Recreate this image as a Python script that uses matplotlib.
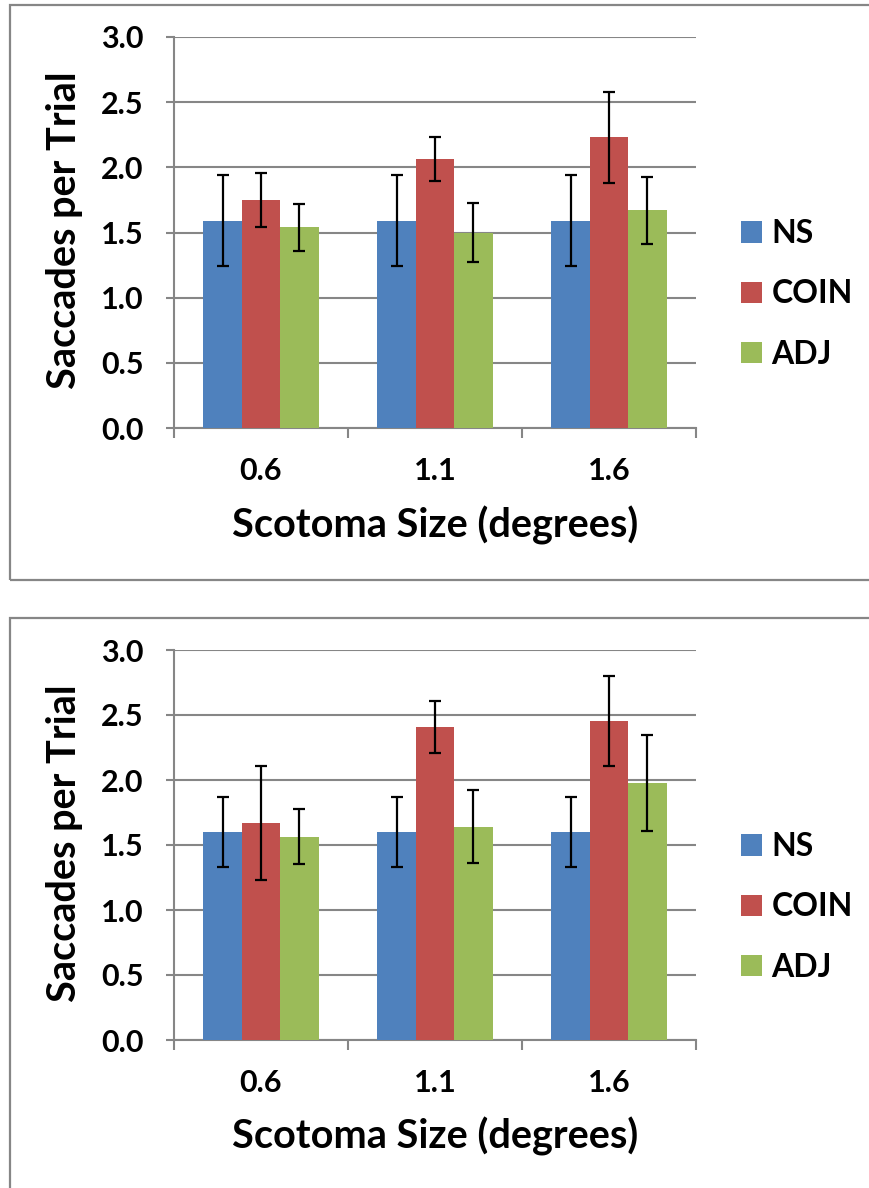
import matplotlib
matplotlib.use("Agg")
import matplotlib.pyplot as plt
from matplotlib.patches import Rectangle, Patch
import numpy as np

# ---- data ----
sizes = ["0.6", "1.1", "1.6"]
series = ["NS", "COIN", "ADJ"]
colors = ["#4F81BD", "#C0504D", "#9BBB59"]

# top panel
top_ns = [1.59, 1.59, 1.59]
top_ns_err = [0.35, 0.35, 0.35]
top_coin = [1.75, 2.065, 2.23]
top_coin_err = [0.205, 0.17, 0.35]
top_adj = [1.54, 1.50, 1.67]
top_adj_err = [0.18, 0.23, 0.257]

# bottom panel
bot_ns = [1.60, 1.60, 1.60]
bot_ns_err = [0.267, 0.267, 0.267]
bot_coin = [1.67, 2.405, 2.455]
bot_coin_err = [0.44, 0.20, 0.345]
bot_adj = [1.565, 1.64, 1.975]
bot_adj_err = [0.21, 0.28, 0.37]

plt.rcParams['font.family'] = ['Lato', 'DejaVu Sans']
plt.rcParams['font.weight'] = 'bold'

GRAY = "#868686"
W, H = 869, 1188
fig = plt.figure(figsize=(W / 100, H / 100), dpi=100)


def draw_panel(ax, vals, errs):
    x = np.arange(len(sizes))
    bw = 0.221
    for i, (v, e, c) in enumerate(zip(vals, errs, colors)):
        ax.bar(x + (i - 1) * bw, v, bw, color=c, zorder=3, linewidth=0)
        ax.errorbar(x + (i - 1) * bw, v, yerr=e, fmt="none", ecolor="black",
                    elinewidth=1.6, capsize=4.5, capthick=1.6, zorder=4)
    ax.set_xlim(-0.5, 2.5)
    ax.set_ylim(0, 3.0)
    ax.set_yticks(np.arange(0, 3.01, 0.5))
    ax.set_yticklabels([f"{t:.1f}" for t in np.arange(0, 3.01, 0.5)])
    ax.set_xticks([-0.5, 0.5, 1.5, 2.5])
    ax.set_xticklabels([])
    ax.set_xticks(x, minor=True)
    ax.set_xticklabels(sizes, minor=True)
    ax.tick_params(axis="x", which="minor", length=0, pad=21, labelsize=22)
    ax.tick_params(axis="x", which="major", length=7, width=1.5, color=GRAY)
    ax.tick_params(axis="y", length=6, width=1.5, color=GRAY, pad=16, labelsize=22)
    ax.grid(axis="y", color=GRAY, linewidth=1.5, zorder=0)
    for s in ["top", "right"]:
        ax.spines[s].set_visible(False)
    for s in ["left", "bottom"]:
        ax.spines[s].set_color(GRAY)
        ax.spines[s].set_linewidth(1.5)
    ax.set_ylabel("Saccades per Trial", fontsize=28.5, fontweight="bold", va="center")
    ax.yaxis.set_label_coords(-0.209, 0.505)
    ax.set_xlabel("Scotoma Size (degrees)", fontsize=28.5, fontweight="bold", va="center")
    ax.xaxis.set_label_coords(0.5, -0.248)


def add_legend(ax, ycenter):
    handles = [Patch(facecolor=c, edgecolor="none") for c in colors]
    ax.legend(handles, series, loc="center left",
              bbox_to_anchor=(741 / W, ycenter), bbox_transform=fig.transFigure,
              frameon=False, handlelength=0.66, handleheight=0.66,
              handletextpad=0.3, labelspacing=0.98, borderpad=0, borderaxespad=0,
              prop={"weight": "bold", "size": 23})


ax1 = fig.add_axes([174 / W, 1 - 428 / H, 522 / W, 391 / H])
draw_panel(ax1, [top_ns, top_coin, top_adj], [top_ns_err, top_coin_err, top_adj_err])
add_legend(ax1, 1 - 294 / H)

ax2 = fig.add_axes([174 / W, 1 - 1040 / H, 522 / W, 390 / H])
draw_panel(ax2, [bot_ns, bot_coin, bot_adj], [bot_ns_err, bot_coin_err, bot_adj_err])
add_legend(ax2, 1 - 907 / H)

# panel frames
fig.patches.append(Rectangle((9.5 / W, 1 - 580 / H), 1.2, (580 - 5) / H,
                             transform=fig.transFigure, fill=False,
                             edgecolor=GRAY, linewidth=1.6))
fig.patches.append(Rectangle((9.5 / W, -0.05), 1.2, 0.05 + (1188 - 618) / H,
                             transform=fig.transFigure, fill=False,
                             edgecolor=GRAY, linewidth=1.6))

fig.savefig("out.png", dpi=100)
